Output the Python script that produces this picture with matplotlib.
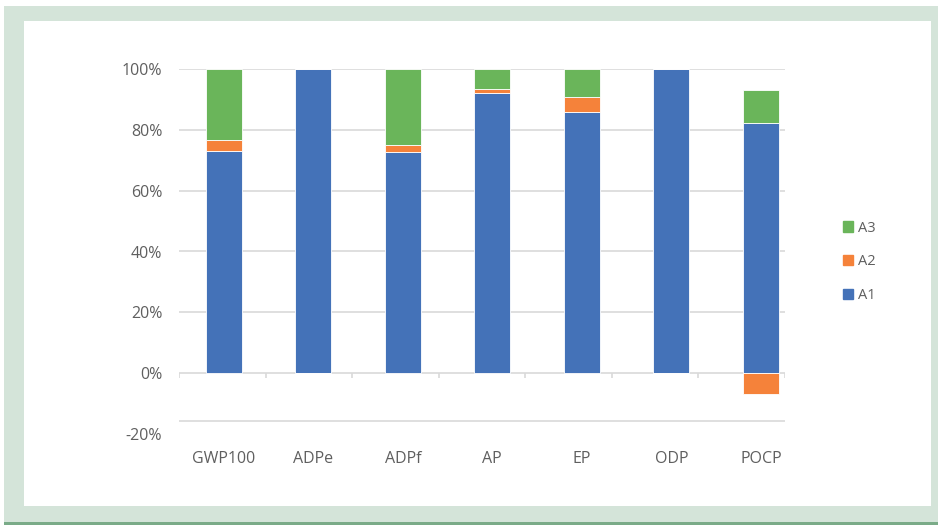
import numpy as np
import matplotlib.pyplot as plt
from matplotlib.patches import Rectangle

categories = ["GWP100", "ADPe", "ADPf", "AP", "EP", "ODP", "POCP"]
a1 = [0.730, 1.000, 0.727, 0.920, 0.860, 1.000, 0.823]
a2 = [0.035, 0.000, 0.024, 0.013, 0.047, 0.000, -0.068]
a3 = [0.235, 0.000, 0.249, 0.067, 0.093, 0.000, 0.109]
yticks = [-0.2, 0.0, 0.2, 0.4, 0.6, 0.8, 1.0]
ytick_labels = ["-20%", "0%", "20%", "40%", "60%", "80%", "100%"]

c1 = "#4472b8"
c2 = "#f5823a"
c3 = "#6ab55a"
grid_c = "#d9d9d9"
text_c = "#5f5f5f"

W, H = 938, 525
fig = plt.figure(figsize=(W / 100, H / 100), dpi=100)
fig.patch.set_facecolor("white")

def px_rect(x0, y0, x1, y1, color):
    # rectangle in pixel coords, origin top-left
    fig.add_artist(Rectangle((x0 / W, 1 - y1 / H), (x1 - x0) / W, (y1 - y0) / H,
                             transform=fig.transFigure, facecolor=color,
                             edgecolor="none", zorder=-10))

px_rect(4, 6, W, H, "#d4e4d9")
px_rect(4, 522, W, H, "#7aab88")
px_rect(24, 21, 931, 506, "white")

ax = fig.add_axes([179 / W, 1 - 434 / H, (785 - 179) / W, (434 - 69) / H])
ax.set_facecolor("none")

x = np.arange(len(categories))
a1 = np.array(a1)
a2 = np.array(a2)
a3 = np.array(a3)
pos2 = np.where(a2 > 0, a2, 0)
bw = 0.4
ax.bar(x, a1, bw, color=c1, edgecolor="white", linewidth=0.6, zorder=3)
ax.bar(x, a2, bw, bottom=np.where(a2 > 0, a1, 0), color=c2, edgecolor="white",
       linewidth=0.6, zorder=3)
ax.bar(x, a3, bw, bottom=a1 + pos2, color=c3, edgecolor="white", linewidth=0.6, zorder=3)

ax.set_xlim(-0.5, 6.27)
ax.set_ylim(-0.2, 1.0)
ax.set_yticks(yticks)
ax.set_yticklabels(ytick_labels)
ax.set_xticks(x)
ax.set_xticklabels(categories)
ax.tick_params(axis="both", length=0, colors=text_c, labelsize=11.5)
ax.tick_params(axis="y", pad=12)
ax.tick_params(axis="x", pad=12)
for lab in ax.get_xticklabels() + ax.get_yticklabels():
    lab.set_fontfamily("Open Sans")

for s in ax.spines.values():
    s.set_visible(False)

ax.yaxis.grid(True, color=grid_c, linewidth=1.2, zorder=0)
ax.set_axisbelow(True)
ax.yaxis.get_gridlines()[0].set_visible(False)
ax.axhline(-0.158, color=grid_c, linewidth=1.2, zorder=0)
# category boundary ticks on the zero line
bounds = np.linspace(-0.5, 6.27, 8)
ax.vlines(bounds, -0.017, 0, color=grid_c, linewidth=1.2, zorder=1)

handles = [Rectangle((0, 0), 1, 1, color=c) for c in (c3, c2, c1)]
leg = fig.legend(handles, ["A3", "A2", "A1"], loc="center left",
                 bbox_to_anchor=(830 / W, 1 - 262 / H), frameon=False,
                 prop={"family": "Open Sans", "size": 10.5},
                 handlelength=0.7, handleheight=0.7, handletextpad=0.35,
                 labelspacing=1.3)
for t in leg.get_texts():
    t.set_color(text_c)

fig.savefig("out.png", dpi=100)
